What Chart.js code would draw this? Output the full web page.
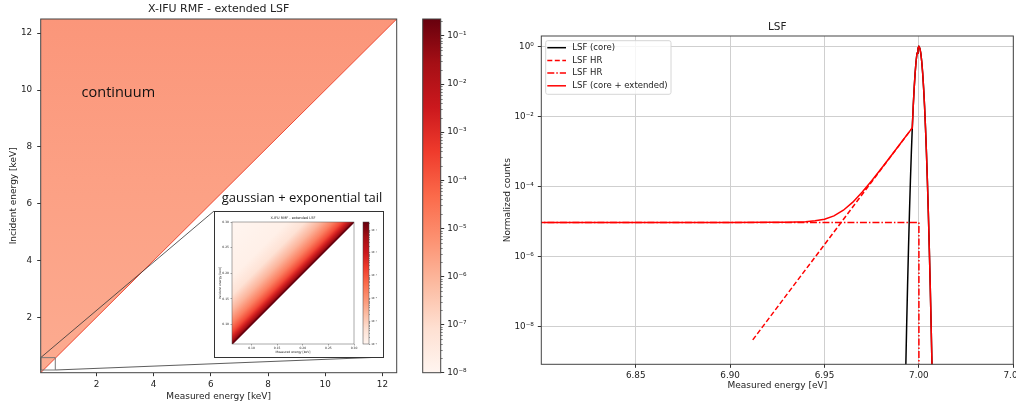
<!DOCTYPE html>
<html>
<head>
<meta charset="utf-8">
<script src="https://cdn.jsdelivr.net/npm/chart.js@4.4.0/dist/chart.umd.min.js"></script>
<style>
  html, body { margin: 0; padding: 0; background: #fff; }
  #fig { position: relative; width: 1016px; height: 405px; overflow: hidden; background: #fff; }
  canvas { position: absolute; }
  #inset { position: absolute; left: 214px; top: 211px; width: 170px; height: 147px;
           box-sizing: border-box; border: 1px solid #333; background: #fff; }
</style>
</head>
<body>
<div id="fig">
  <canvas id="rmf" width="410" height="405" style="left:0;top:0"></canvas>
  <div id="inset">
    <canvas id="insetRmf" width="168" height="145" style="left:0;top:0"></canvas>
    <canvas id="insetBar" width="23" height="145" style="left:145px;top:0"></canvas>
  </div>
  <canvas id="cbar" width="70" height="405" style="left:410px;top:0"></canvas>
  <canvas id="lsf" width="536" height="405" style="left:480px;top:0"></canvas>
</div>
<script>
/* ---------- data ---------- */

// left panel, keV
const rmfDiagX = [0.05, 12.5];
const rmfDiagY = [0.05, 12.5];
const zoomBoxX = [0.05, 0.56, 0.56, 0.05, 0.05];
const zoomBoxY = [0.145, 0.145, 0.58, 0.58, 0.145];
const linkTopX = [0.05, 6.11];
const linkTopY = [0.58, 5.74];
const linkBotX = [0.56, 12.02];
const linkBotY = [0.145, 0.60];
const rmfTicks = [2, 4, 6, 8, 10, 12];

// inset (zoom on low energies)
const insetDiagX = [0.062, 0.30];
const insetDiagY = [0.062, 0.30];
const insetTicks = [0.10, 0.15, 0.20, 0.25, 0.30];
const insetTickLabels = ['0.10', '0.15', '0.20', '0.25', '0.30'];

// colorbars
const cbTicks = [1e-8, 1e-7, 1e-6, 1e-5, 1e-4, 1e-3, 1e-2, 1e-1];
const cbLabels = ['10⁻⁸', '10⁻⁷', '10⁻⁶', '10⁻⁵', '10⁻⁴', '10⁻³', '10⁻²', '10⁻¹'];
const insetCbTicks = [1e-6, 1e-5, 1e-4, 1e-3, 1e-2, 1e-1];
const insetCbLabels = ['10⁻⁶', '10⁻⁵', '10⁻⁴', '10⁻³', '10⁻²', '10⁻¹'];
const REDS = ['#fff5f0', '#fee0d2', '#fcbba1', '#fc9272', '#fb6a4a', '#ef3b2c', '#cb181d', '#a50f15', '#67000d'];

// right panel: LSF
const coreX = [6.9925, 6.993, 6.9935, 6.994, 6.9945, 6.995, 6.9955, 6.996, 6.9965, 6.997, 6.9975,
               6.998, 6.9985, 6.999, 6.9995, 7.0, 7.0005, 7.001, 7.0015, 7.002, 7.0025, 7.003,
               7.0035, 7.004, 7.0045, 7.005, 7.0055, 7.006, 7.0065, 7.007, 7.0075];
const coreY = [2.2e-11, 5.1e-10, 9.7e-9, 1.5e-7, 1.8e-6, 1.8e-5, 1.45e-4, 9.2e-4, 4.75e-3, 1.96e-2, 6.5e-2,
               0.174, 0.374, 0.646, 0.897, 1.0, 0.897, 0.646, 0.374, 0.174, 6.5e-2, 1.96e-2,
               4.75e-3, 9.2e-4, 1.45e-4, 1.8e-5, 1.8e-6, 1.5e-7, 9.7e-9, 5.1e-10, 2.2e-11];

const tailX = [6.912, 6.9965];
const tailY = [4.2e-9, 4.75e-3];

const flatX = [6.79, 7.0, 7.0];
const flatY = [9.5e-6, 9.5e-6, 1e-11];

const totalX = [6.79, 6.90, 6.92, 6.93, 6.94, 6.945, 6.95, 6.955, 6.96, 6.965, 6.97, 6.975, 6.98,
                6.985, 6.99, 6.9965, 6.997, 6.9975, 6.998, 6.9985, 6.999, 6.9995, 7.0, 7.0005,
                7.001, 7.0015, 7.002, 7.0025, 7.003, 7.0035, 7.004, 7.0045, 7.005, 7.0055,
                7.006, 7.0065, 7.007, 7.0075];
const totalY = [9.5e-6, 9.5e-6, 9.52e-6, 9.58e-6, 9.93e-6, 1.05e-5, 1.17e-5, 1.46e-5, 2.11e-5, 3.59e-5,
                6.98e-5, 1.47e-4, 3.24e-4, 7.26e-4, 1.65e-3, 4.76e-3, 1.96e-2, 6.5e-2, 0.174, 0.374,
                0.646, 0.897, 1.0, 0.897, 0.646, 0.374, 0.174, 6.5e-2, 1.96e-2, 4.75e-3, 9.2e-4,
                1.45e-4, 1.8e-5, 1.8e-6, 1.5e-7, 9.7e-9, 5.1e-10, 2.2e-11];

const lsfXTicks = [6.85, 6.90, 6.95, 7.00, 7.05];
const lsfXLabels = ['6.85', '6.90', '6.95', '7.00', '7.05'];
const lsfYTicks = [1, 1e-2, 1e-4, 1e-6, 1e-8];
const lsfYLabels = ['10⁰', '10⁻²', '10⁻⁴', '10⁻⁶', '10⁻⁸'];
const legendLabels = ['LSF (core)', 'LSF HR', 'LSF HR', 'LSF (core + extended)'];

/* ---------- helpers ---------- */
const FONT = 'DejaVu Sans';
const TXT = '#222';
const pts = (xs, ys) => xs.map((x, i) => ({ x, y: ys[i] }));

// force axis box size, drop the automatic label overflow padding
const fix = (w, h) => s => {
  if (w !== null) s.width = w;
  if (h !== null) s.height = h;
  s.paddingTop = s.paddingBottom = s.paddingLeft = s.paddingRight = 0;
};
const setTicks = list => s => { s.ticks = list.map(v => ({ value: v })); };

// axes spines on all four sides
const frame = {
  id: 'frame',
  afterDatasetsDraw(chart, args, o) {
    const { ctx, chartArea: a } = chart;
    ctx.save();
    ctx.strokeStyle = o.color || '#444';
    ctx.lineWidth = o.width || 1;
    ctx.strokeRect(a.left, a.top, a.right - a.left, a.bottom - a.top);
    ctx.restore();
  }
};

// title above the axes
const figTitle = {
  id: 'figTitle',
  afterDraw(chart, args, o) {
    const { ctx, chartArea: a } = chart;
    ctx.save();
    ctx.fillStyle = TXT;
    ctx.font = o.size + 'px "' + FONT + '"';
    ctx.textAlign = 'center';
    ctx.textBaseline = 'middle';
    ctx.fillText(o.text, (a.left + a.right) / 2, a.top - o.gap);
    ctx.restore();
  }
};

// short minor ticks on a log colorbar
const minorTicks = {
  id: 'minorTicks',
  afterDraw(chart, args, o) {
    const s = chart.scales.y, a = chart.chartArea, ctx = chart.ctx;
    ctx.save();
    ctx.strokeStyle = '#333';
    ctx.lineWidth = 0.6;
    for (let d = s.min; d < s.max; d *= 10) {
      for (let k = 2; k < 10; k++) {
        const v = k * Math.pow(10, Math.round(Math.log10(d)));
        if (v > s.max) break;
        const y = Math.round(s.getPixelForValue(v)) + 0.5;
        ctx.beginPath(); ctx.moveTo(a.right, y); ctx.lineTo(a.right + o.len, y); ctx.stroke();
      }
    }
    ctx.restore();
  }
};

function redsGradient(c) {
  const a = c.chart.chartArea;
  if (!a) return REDS[4];
  const g = c.chart.ctx.createLinearGradient(0, a.bottom, 0, a.top);
  REDS.forEach((col, i) => g.addColorStop(i / (REDS.length - 1), col));
  return g;
}

function colorbar(id, o) {
  return new Chart(document.getElementById(id), {
    type: 'bar',
    data: { labels: [''], datasets: [{ data: [[o.min, o.max]], backgroundColor: redsGradient,
            borderWidth: 0, barPercentage: 1, categoryPercentage: 1 }] },
    options: {
      responsive: false, animation: false, events: [],
      layout: { padding: { left: o.left, top: o.top, right: 0, bottom: o.bottom } },
      plugins: { legend: { display: false }, tooltip: { enabled: false },
                 frame: { color: '#444', width: o.frame }, minorTicks: { len: o.minorLen } },
      scales: {
        x: { display: false },
        y: {
          type: 'logarithmic', position: 'right', min: o.min, max: o.max,
          afterBuildTicks: setTicks(o.ticks), afterFit: fix(o.width, null),
          grid: { drawOnChartArea: false, tickLength: o.tickLen, tickColor: '#333', tickWidth: o.frame },
          border: { display: false },
          ticks: { callback: v => o.labels[o.ticks.indexOf(v)], font: { family: FONT, size: o.fontSize },
                   color: TXT, padding: o.pad, autoSkip: false }
        }
      }
    },
    plugins: [frame, minorTicks]
  });
}

/* ---------- left panel: RMF ---------- */
function rmfFill(c) {
  const a = c.chart.chartArea;
  if (!a) return '#fca084';
  const g = c.chart.ctx.createLinearGradient(0, a.top, 0, a.bottom);
  g.addColorStop(0, '#fb967a');
  g.addColorStop(0.5, '#fca185');
  g.addColorStop(1, '#fcab90');
  return g;
}

const rmfText = {
  id: 'rmfText',
  afterDatasetsDraw(chart) {
    const { ctx, scales: { x, y } } = chart;
    ctx.save();
    ctx.fillStyle = '#111';
    ctx.font = '14.5px "Open Sans"';
    ctx.textBaseline = 'alphabetic';
    ctx.fillText('continuum', x.getPixelForValue(1.48), y.getPixelForValue(9.75));
    ctx.font = '13px "Open Sans"';
    ctx.fillText('gaussian + exponential tail', x.getPixelForValue(6.38), y.getPixelForValue(6.06));
    ctx.restore();
  }
};

const lineDs = (xs, ys, color, width) => ({
  data: pts(xs, ys), showLine: true, fill: false, borderColor: color, borderWidth: width,
  pointRadius: 0, order: 0
});

const tickFont = { family: FONT, size: 8.8 };
const labelFont = { family: FONT, size: 9 };

new Chart(document.getElementById('rmf'), {
  type: 'scatter',
  data: {
    datasets: [
      { data: pts(rmfDiagX, rmfDiagY), showLine: true, fill: 'end', backgroundColor: rmfFill,
        borderColor: '#ee4a36', borderWidth: 1, pointRadius: 0, order: 5 },
      lineDs(zoomBoxX, zoomBoxY, '#777', 1),
      lineDs(linkTopX, linkTopY, '#333', 0.8),
      lineDs(linkBotX, linkBotY, '#333', 0.8)
    ]
  },
  options: {
    responsive: false, animation: false, events: [],
    layout: { padding: { left: 0, top: 19, right: 13.3, bottom: 0 } },
    plugins: { legend: { display: false }, tooltip: { enabled: false },
               frame: { color: '#444' }, figTitle: { text: 'X-IFU RMF - extended LSF', size: 11, gap: 9.5 } },
    scales: {
      x: {
        type: 'linear', min: 0.05, max: 12.5,
        afterBuildTicks: setTicks(rmfTicks), afterFit: fix(null, 32.3),
        grid: { drawOnChartArea: false, tickLength: 3.5, tickColor: '#333' },
        border: { display: false },
        ticks: { font: tickFont, color: TXT, padding: 3, maxRotation: 0, autoSkip: false },
        title: { display: true, text: 'Measured energy [keV]', font: labelFont, color: TXT, padding: { top: 0, bottom: 3 } }
      },
      y: {
        type: 'linear', min: 0.05, max: 12.5,
        afterBuildTicks: setTicks(rmfTicks), afterFit: fix(40.7, null),
        grid: { drawOnChartArea: false, tickLength: 3.5, tickColor: '#333' },
        border: { display: false },
        ticks: { font: tickFont, color: TXT, padding: 5, autoSkip: false },
        title: { display: true, text: 'Incident energy [keV]', font: labelFont, color: TXT, padding: { top: 8, bottom: 0 } }
      }
    }
  },
  plugins: [frame, figTitle, rmfText]
});

/* ---------- inset ---------- */
function insetFill(c) {
  const a = c.chart.chartArea;
  if (!a) return '#fff5f0';
  const g = c.chart.ctx.createLinearGradient((a.left + a.right) / 2, (a.top + a.bottom) / 2, a.left, a.top);
  g.addColorStop(0, '#67000d');
  g.addColorStop(0.025, '#a50f15');
  g.addColorStop(0.06, '#d42020');
  g.addColorStop(0.1, '#f24a37');
  g.addColorStop(0.17, '#fb7f61');
  g.addColorStop(0.27, '#fcb39a');
  g.addColorStop(0.4, '#fee2d5');
  g.addColorStop(0.55, '#fff0e8');
  g.addColorStop(1, '#fff5f0');
  return g;
}

const tinyFont = { family: FONT, size: 3 };
new Chart(document.getElementById('insetRmf'), {
  type: 'scatter',
  data: {
    datasets: [{ data: pts(insetDiagX, insetDiagY), showLine: true, fill: 'end', backgroundColor: insetFill,
                 borderColor: '#67000d', borderWidth: 1.5, pointRadius: 0 }]
  },
  options: {
    responsive: false, animation: false, events: [],
    layout: { padding: { left: 0, top: 10, right: 29, bottom: 0 } },
    plugins: { legend: { display: false }, tooltip: { enabled: false },
               frame: { color: '#555', width: 0.5 }, figTitle: { text: 'X-IFU RMF - extended LSF', size: 3.5, gap: 4 } },
    scales: {
      x: {
        type: 'linear', min: 0.062, max: 0.30,
        afterBuildTicks: setTicks(insetTicks), afterFit: fix(null, 13),
        grid: { drawOnChartArea: false, tickLength: 1.5, tickColor: '#555', tickWidth: 0.5 },
        border: { display: false },
        ticks: { callback: v => insetTickLabels[insetTicks.indexOf(v)], font: tinyFont, color: TXT,
                 padding: 1, maxRotation: 0, autoSkip: false },
        title: { display: true, text: 'Measured energy [keV]', font: tinyFont, color: TXT, padding: { top: 0, bottom: 3.2 } }
      },
      y: {
        type: 'linear', min: 0.062, max: 0.30,
        afterBuildTicks: setTicks(insetTicks), afterFit: fix(17, null),
        grid: { drawOnChartArea: false, tickLength: 1.5, tickColor: '#555', tickWidth: 0.5 },
        border: { display: false },
        ticks: { callback: v => insetTickLabels[insetTicks.indexOf(v)], font: tinyFont, color: TXT,
                 padding: 1.5, autoSkip: false },
        title: { display: true, text: 'Incident energy [keV]', font: tinyFont, color: TXT, padding: { top: 3.2, bottom: 0 } }
      }
    }
  },
  plugins: [frame, figTitle]
});

colorbar('insetBar', { min: 1e-6, max: 0.225, ticks: insetCbTicks, labels: insetCbLabels,
  left: 3, top: 10, bottom: 13, width: 14, tickLen: 1.2, minorLen: 0.7, fontSize: 2.6, pad: 1, frame: 0.5 });

/* ---------- main colorbar ---------- */
colorbar('cbar', { min: 1e-8, max: 0.225, ticks: cbTicks, labels: cbLabels,
  left: 12.7, top: 19, bottom: 32.3, width: 39.3, tickLen: 3.5, minorLen: 2, fontSize: 8.8, pad: 3, frame: 1 });

/* ---------- right panel: LSF ---------- */
const lsfStyles = [
  { color: '#000', dash: [] },
  { color: '#ff0000', dash: [5, 2.5] },
  { color: '#ff0000', dash: [7, 2, 1.5, 2] },
  { color: '#ff0000', dash: [] }
];

const lsfLegend = {
  id: 'lsfLegend',
  afterDraw(chart) {
    const { ctx, chartArea: a } = chart;
    const x0 = a.left + 4.4, y0 = a.top + 4.7, w = 125.3, h = 53.6, r = 2;
    ctx.save();
    ctx.beginPath();
    ctx.moveTo(x0 + r, y0);
    ctx.arcTo(x0 + w, y0, x0 + w, y0 + h, r);
    ctx.arcTo(x0 + w, y0 + h, x0, y0 + h, r);
    ctx.arcTo(x0, y0 + h, x0, y0, r);
    ctx.arcTo(x0, y0, x0 + w, y0, r);
    ctx.closePath();
    ctx.fillStyle = 'rgba(255,255,255,0.8)';
    ctx.fill();
    ctx.strokeStyle = '#d6d6d6';
    ctx.lineWidth = 1;
    ctx.stroke();
    ctx.font = '8.5px "' + FONT + '"';
    ctx.textBaseline = 'middle';
    legendLabels.forEach((label, i) => {
      const y = y0 + 7 + i * 12.7;
      ctx.strokeStyle = lsfStyles[i].color;
      ctx.lineWidth = 1.5;
      ctx.setLineDash(lsfStyles[i].dash);
      ctx.beginPath(); ctx.moveTo(a.left + 6, y); ctx.lineTo(a.left + 24.7, y); ctx.stroke();
      ctx.setLineDash([]);
      ctx.fillStyle = TXT;
      ctx.fillText(label, a.left + 31, y);
    });
    ctx.restore();
  }
};

const lsfDs = (xs, ys, i, order) => ({
  data: pts(xs, ys), showLine: true, fill: false, borderColor: lsfStyles[i].color,
  borderDash: lsfStyles[i].dash, borderWidth: 1.5, pointRadius: 0, order
});

new Chart(document.getElementById('lsf'), {
  type: 'scatter',
  data: {
    datasets: [
      lsfDs(coreX, coreY, 0, 3),
      lsfDs(tailX, tailY, 1, 2),
      lsfDs(flatX, flatY, 2, 1),
      lsfDs(totalX, totalY, 3, 0)
    ]
  },
  options: {
    responsive: false, animation: false, events: [],
    layout: { padding: { left: 0, top: 36, right: 2.7, bottom: 0 } },
    plugins: { legend: { display: false }, tooltip: { enabled: false },
               frame: { color: '#444' }, figTitle: { text: 'LSF', size: 10.5, gap: 9 } },
    scales: {
      x: {
        type: 'linear', min: 6.80, max: 7.05,
        afterBuildTicks: setTicks(lsfXTicks), afterFit: fix(null, 40.7),
        grid: { color: '#cfcfcf', lineWidth: 1, tickLength: 3.5, tickColor: '#333' },
        border: { display: false },
        ticks: { callback: v => lsfXLabels[lsfXTicks.indexOf(v)], font: tickFont, color: TXT,
                 padding: 3, maxRotation: 0, autoSkip: false },
        title: { display: true, text: 'Measured energy [eV]', font: labelFont, color: TXT, padding: { top: 0, bottom: 14.2 } }
      },
      y: {
        type: 'logarithmic', min: 8.4e-10, max: 2.0,
        afterBuildTicks: setTicks(lsfYTicks), afterFit: fix(61.3, null),
        grid: { color: '#cfcfcf', lineWidth: 1, tickLength: 3.5, tickColor: '#333' },
        border: { display: false },
        ticks: { callback: v => lsfYLabels[lsfYTicks.indexOf(v)], font: tickFont, color: TXT,
                 padding: 4, autoSkip: false },
        title: { display: true, text: 'Normalized counts', font: labelFont, color: TXT, padding: { top: 22, bottom: 0 } }
      }
    }
  },
  plugins: [frame, figTitle, lsfLegend]
});
</script>
</body>
</html>
